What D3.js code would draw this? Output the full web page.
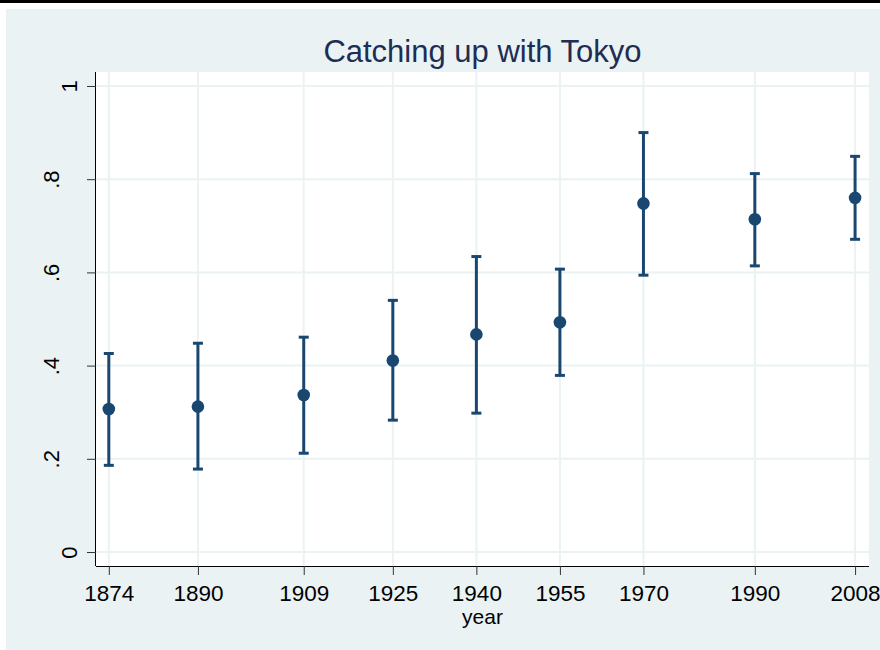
<!DOCTYPE html>
<html>
<head>
<meta charset="utf-8">
<script src="https://cdn.jsdelivr.net/npm/d3@7"></script>
<style>
  body { margin: 0; background: #fff; }
  svg { display: block; font-family: "Liberation Sans", Arial, sans-serif; }
</style>
</head>
<body>
<svg id="chart" width="880" height="650"></svg>
<script>
// values
var years = [1874, 1890, 1909, 1925, 1940, 1955, 1970, 1990, 2008];
var means = [0.307, 0.312, 0.337, 0.411, 0.467, 0.493, 0.748, 0.714, 0.760];
var lower = [0.186, 0.178, 0.212, 0.283, 0.298, 0.379, 0.594, 0.614, 0.671];
var upper = [0.426, 0.448, 0.461, 0.540, 0.634, 0.607, 0.900, 0.812, 0.849];
var yTicks = [0, 0.2, 0.4, 0.6, 0.8, 1];
var yTickLabels = ["0", ".2", ".4", ".6", ".8", "1"];

var navy = "#1a476f";
var svg = d3.select("#chart");

// outer frame bits
svg.append("rect").attr("x", 0).attr("y", 0).attr("width", 880).attr("height", 3).attr("fill", "#000");
svg.append("rect").attr("x", 6).attr("y", 9).attr("width", 874).attr("height", 641).attr("fill", "#eaf2f3");

var pLeft = 96, pRight = 869, pTop = 72, pBottom = 566;
svg.append("rect").attr("x", pLeft).attr("y", pTop).attr("width", pRight-pLeft).attr("height", pBottom-pTop).attr("fill", "#fff");

var x = d3.scaleLinear().domain([1871.7, 2010.5]).range([pLeft, pRight]);
var y = d3.scaleLinear().domain([-0.03, 1.03]).range([pBottom, pTop]);

// grid
svg.append("g").selectAll("line").data(years).enter().append("line")
	.attr("x1", function(d){ return x(d); }).attr("x2", function(d){ return x(d); })
	.attr("y1", pTop).attr("y2", pBottom)
	.attr("stroke", "#eaf2f3").attr("stroke-width", 2);
svg.append("g").selectAll("line").data(yTicks).enter().append("line")
	.attr("y1", function(d){ return y(d); }).attr("y2", function(d){ return y(d); })
	.attr("x1", pLeft).attr("x2", pRight)
	.attr("stroke", "#eaf2f3").attr("stroke-width", 2);

// x axis
var xAxis = svg.append("g").attr("transform", "translate(0," + pBottom + ")")
	.call(d3.axisBottom(x).tickValues(years).tickFormat(d3.format("d")).tickSize(9).tickPadding(10));
xAxis.select(".domain").attr("d", "M" + pLeft + ",0.5H" + pRight).attr("stroke", "#000");
xAxis.selectAll(".tick line").attr("stroke", "#333");
xAxis.selectAll("text").attr("font-size", "22.5px").attr("fill", "#000").attr("font-family", "Liberation Sans, Arial, sans-serif");

// y axis
var yAxis = svg.append("g").attr("transform", "translate(" + pLeft + ",0)")
	.call(d3.axisLeft(y).tickValues(yTicks).tickFormat(function(d, i){ return yTickLabels[i]; }).tickSize(9));
yAxis.select(".domain").attr("d", "M-0.5," + pTop + "V" + pBottom).attr("stroke", "#000");
yAxis.selectAll(".tick line").attr("stroke", "#333");
yAxis.selectAll("text")
	.attr("font-size", "22px").attr("fill", "#000").attr("font-family", "Liberation Sans, Arial, sans-serif")
	.attr("text-anchor", "middle").attr("dy", null).attr("x", null)
	.attr("transform", function(d, i){
		var bx = yTickLabels[i].length > 1 ? -37 : -19;
		return "translate(" + bx + ",0) rotate(-90)";
	});

// error bars
var bars = svg.append("g");
bars.selectAll(".rng").data(years).enter().append("line")
	.attr("x1", function(d){ return x(d); }).attr("x2", function(d){ return x(d); })
	.attr("y1", function(d, i){ return y(upper[i]); }).attr("y2", function(d, i){ return y(lower[i]); })
	.attr("stroke", navy).attr("stroke-width", 3);
bars.selectAll(".capU").data(years).enter().append("line")
	.attr("x1", function(d){ return x(d) - 5; }).attr("x2", function(d){ return x(d) + 5; })
	.attr("y1", function(d, i){ return y(upper[i]); }).attr("y2", function(d, i){ return y(upper[i]); })
	.attr("stroke", navy).attr("stroke-width", 3);
bars.selectAll(".capL").data(years).enter().append("line")
	.attr("x1", function(d){ return x(d) - 5; }).attr("x2", function(d){ return x(d) + 5; })
	.attr("y1", function(d, i){ return y(lower[i]); }).attr("y2", function(d, i){ return y(lower[i]); })
	.attr("stroke", navy).attr("stroke-width", 3);
bars.selectAll("circle").data(years).enter().append("circle")
	.attr("cx", function(d){ return x(d); }).attr("cy", function(d, i){ return y(means[i]); })
	.attr("r", 6.3).attr("fill", navy);

// titles
svg.append("text").attr("x", (pLeft + pRight) / 2).attr("y", 62).attr("text-anchor", "middle")
	.attr("font-size", "31px").attr("fill", "#1e2d53").text("Catching up with Tokyo");
svg.append("text").attr("x", (pLeft + pRight) / 2).attr("y", 624).attr("text-anchor", "middle")
	.attr("font-size", "21px").attr("fill", "#000").text("year");
</script>
</body>
</html>
